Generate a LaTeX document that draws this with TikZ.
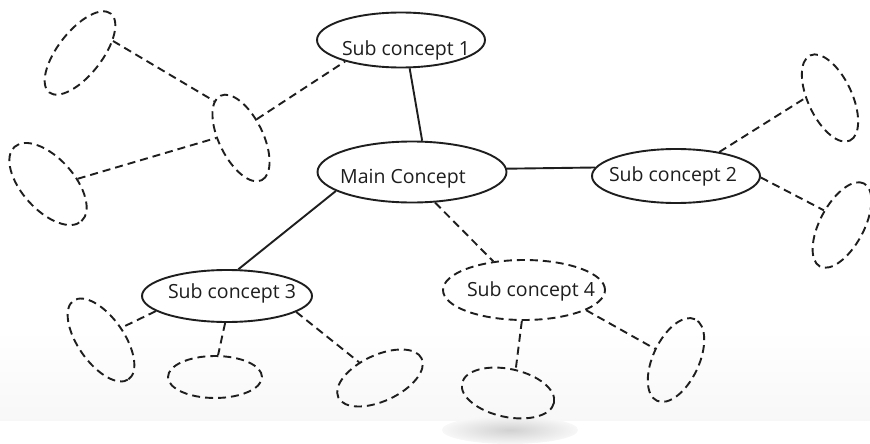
\documentclass[tikz,border=0pt]{standalone}
\usepackage{fontspec}
\setmainfont{Open Sans}
\usetikzlibrary{shapes.geometric}
\definecolor{ink}{HTML}{1E1E1E}
\begin{document}
\begin{tikzpicture}[x=1pt,y=-1pt,
  bubble/.style={ellipse, draw=ink, line width=1.9pt, inner sep=0pt},
  idea/.style={bubble, dash pattern=on 8pt off 5pt},
  link/.style={draw=ink, line width=1.9pt},
  weak/.style={link, dash pattern=on 8pt off 5pt},
  lbl/.style={font=\fontsize{19.5}{22}\selectfont, inner sep=0pt, anchor=base, text=ink}]

% page and faint shading near the lower edge
\fill[white] (0,0) rectangle (870,420);
\shade[top color=white, bottom color=black!3] (0,330) rectangle (870,420);
\shade[inner color=black!18, outer color=black!3] (510,430) ellipse [x radius=68pt, y radius=14pt];
\useasboundingbox (0,0) rectangle (870,420);

% concept nodes
\node[bubble, minimum width=168pt, minimum height=55pt] (sub1) at (401,40) {};
\node[bubble, minimum width=189pt, minimum height=61pt] (main) at (412,172) {};
\node[bubble, minimum width=168pt, minimum height=54pt] (sub2) at (676,176) {};
\node[bubble, minimum width=170pt, minimum height=52pt] (sub3) at (227,296) {};
\node[idea,   minimum width=162pt, minimum height=60pt] (sub4) at (524,290) {};

\node[lbl] (t1) at (406,56)  {Sub concept 1};
\node[lbl] (tm) at (403,183) {Main Concept};
\node[lbl] (t2) at (673,181) {Sub concept 2};
\node[lbl] (t3) at (232,298) {Sub concept 3};
\node[lbl] (t4) at (531,296) {Sub concept 4};

% empty idea slots
\node[idea, minimum width=100pt, minimum height=44pt, rotate=52]  (a1) at (80,53) {};
\node[idea, minimum width=94pt,  minimum height=44pt, rotate=-64] (a2) at (241,138) {};
\node[idea, minimum width=100pt, minimum height=52pt, rotate=-48] (a3) at (48,184) {};
\node[idea, minimum width=94pt,  minimum height=44pt, rotate=-65] (r1) at (830,98) {};
\node[idea, minimum width=94pt,  minimum height=44pt, rotate=62]  (r2) at (842,225) {};
\node[idea, minimum width=96pt,  minimum height=46pt, rotate=-55] (b1) at (101,340) {};
\node[idea, minimum width=94pt,  minimum height=42pt]             (b2) at (215,377) {};
\node[idea, minimum width=92pt,  minimum height=46pt, rotate=25]  (b3) at (380,378) {};
\node[idea, minimum width=94pt,  minimum height=48pt, rotate=-12] (b4) at (508,393) {};
\node[idea, minimum width=90pt,  minimum height=46pt, rotate=65]  (b5) at (676,360) {};

% solid links from the main concept
\draw[link] (sub1.-73) -- (main.72);
\draw[link] (main.2) -- (sub2.174);
\draw[link] (main.194) -- (sub3.67);

% dashed links
\draw[weak] (main.-53) -- (sub4.137);
\draw[weak] (a1.-32) -- (a2.-170);
\draw[weak] (a3.58) -- (a2.-116);
\draw[weak] (a2.114) -- (sub1.201);
\draw[weak] (sub2.29) -- (r1.245);
\draw[weak] (sub2.-1) -- (r2.79);
\draw[weak] (sub3.192) -- (b1.86);
\draw[weak] (sub3.266) -- (b2.82);
\draw[weak] (sub3.-13) -- (b3.118);
\draw[weak] (sub4.-94) -- (b4.84);
\draw[weak] (sub4.-18) -- (b5.87);
\end{tikzpicture}
\end{document}
